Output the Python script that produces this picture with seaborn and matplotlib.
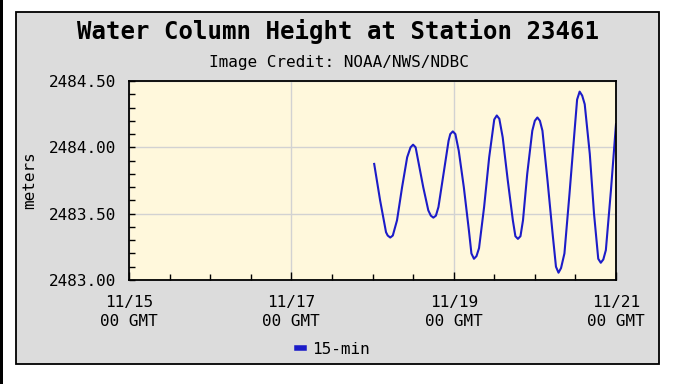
import pandas as pd
import matplotlib
matplotlib.use("Agg")
import matplotlib.pyplot as plt
import matplotlib.dates as mdates
from matplotlib.patches import Rectangle
from matplotlib.lines import Line2D
import seaborn as sns

# hours after 11/18 00 GMT and water column height (m)
hours = [0.5, 2.25, 4.0, 4.5, 5.25, 6.0, 7.25, 8.75, 10.25, 11.25, 12.0, 12.75,
         13.5, 15.0, 16.5, 17.25, 18.0, 18.75, 19.5, 21.0, 22.5, 23.0, 23.75, 24.5,
         25.5, 27.0, 28.5, 29.25, 30.0, 30.75, 31.5, 33.0, 34.5, 36.0, 36.75, 37.5,
         38.5, 40.0, 41.5, 42.25, 43.0, 43.75, 44.5, 45.75, 47.25, 48.0, 48.75, 49.5,
         50.25, 51.75, 53.25, 54.25, 55.0, 55.75, 56.75, 58.25, 59.75, 60.5, 61.25, 62.0,
         62.75, 64.25, 65.5, 66.75, 67.5, 68.25, 69.0, 70.5, 72.0]
height = [2483.875, 2483.60, 2483.36, 2483.335, 2483.32, 2483.335, 2483.45, 2483.70,
          2483.925, 2484.00, 2484.02, 2484.00, 2483.90, 2483.70, 2483.525, 2483.485,
          2483.47, 2483.485, 2483.55, 2483.80, 2484.05, 2484.10, 2484.12, 2484.10,
          2483.975, 2483.70, 2483.375, 2483.20, 2483.16, 2483.18, 2483.24, 2483.55,
          2483.925, 2484.21, 2484.24, 2484.215, 2484.075, 2483.75, 2483.45, 2483.33,
          2483.31, 2483.33, 2483.45, 2483.80, 2484.125, 2484.20, 2484.225, 2484.20,
          2484.125, 2483.75, 2483.35, 2483.10, 2483.055, 2483.09, 2483.20, 2483.65,
          2484.125, 2484.36, 2484.42, 2484.39, 2484.325, 2483.95, 2483.50, 2483.16,
          2483.13, 2483.155, 2483.225, 2483.675, 2484.175]

title = "Water Column Height at Station 23461"
subtitle = "Image Credit: NOAA/NWS/NDBC"
y_ticks = [2483.0, 2483.5, 2484.0, 2484.5]

start = pd.Timestamp("2024-11-18 00:00")
df = pd.DataFrame({"time": start + pd.to_timedelta(hours, unit="h"), "height": height})

plt.rcParams["font.family"] = ["DejaVu Sans Mono"]

W, H = 680, 384
fig = plt.figure(figsize=(W / 100, H / 100), dpi=100, facecolor="white")

# grey panel and the black line on the left edge
fig.patches.append(Rectangle((16 / W, 1 - 364 / H), (659 - 16) / W, (364 - 12) / H,
                             transform=fig.transFigure, facecolor="#dcdcdc",
                             edgecolor="black", linewidth=1.3, zorder=-5))
fig.patches.append(Rectangle((0, 0), 2.5 / W, 1, transform=fig.transFigure,
                             facecolor="black", edgecolor="none", zorder=-5))

ax = fig.add_axes([129 / W, 1 - 280 / H, (616 - 129) / W, (280 - 81) / H])
ax.set_zorder(2)
ax.set_facecolor("#fff8dc")

sns.lineplot(data=df, x="time", y="height", ax=ax, color="#1c1cc8", linewidth=1.5)

ax.set_xlim(pd.Timestamp("2024-11-15 00:00"), pd.Timestamp("2024-11-21 00:00"))
ax.set_ylim(2483.0, 2484.5)
ax.set_yticks(y_ticks)
ax.yaxis.set_major_formatter(matplotlib.ticker.FormatStrFormatter("%.2f"))
ax.yaxis.set_minor_locator(matplotlib.ticker.MultipleLocator(0.1))
ax.xaxis.set_major_locator(mdates.DayLocator(bymonthday=[15, 17, 19, 21]))
ax.xaxis.set_minor_locator(mdates.HourLocator(byhour=[0, 12]))
ax.xaxis.set_major_formatter(mdates.DateFormatter("%m/%d\n%H GMT"))

ax.grid(True, which="major", color="#d2d2d2", linewidth=1)
ax.set_axisbelow(True)
for s in ax.spines.values():
    s.set_color("black")
    s.set_linewidth(1.3)

ax.tick_params(axis="both", which="both", direction="in", colors="black",
               labelsize=11.5, width=1)
ax.tick_params(axis="x", which="major", length=6, pad=11)
ax.tick_params(axis="x", which="minor", length=4)
ax.tick_params(axis="y", which="both", length=4, pad=9)
for lbl in ax.get_xticklabels():
    lbl.set_linespacing(1.35)

ax.set_xlabel("")
ax.set_ylabel("meters", fontsize=11.5)
ax.yaxis.set_label_coords(-0.189, 0.5)

fig.text(338 / W, 1 - 32 / H, title, ha="center", va="center",
         fontsize=17.3, fontweight="bold")
fig.text(339 / W, 1 - 62 / H, subtitle, ha="center", va="center", fontsize=11.5)

handle = Line2D([], [], color="#1c1cc8", linewidth=4)
fig.legend([handle], ["15-min"], loc="center", bbox_to_anchor=(333 / W, 1 - 349 / H),
           frameon=False, fontsize=11.5, handlelength=0.45, handletextpad=0.5)

fig.savefig("out.png", dpi=100, facecolor="white")
